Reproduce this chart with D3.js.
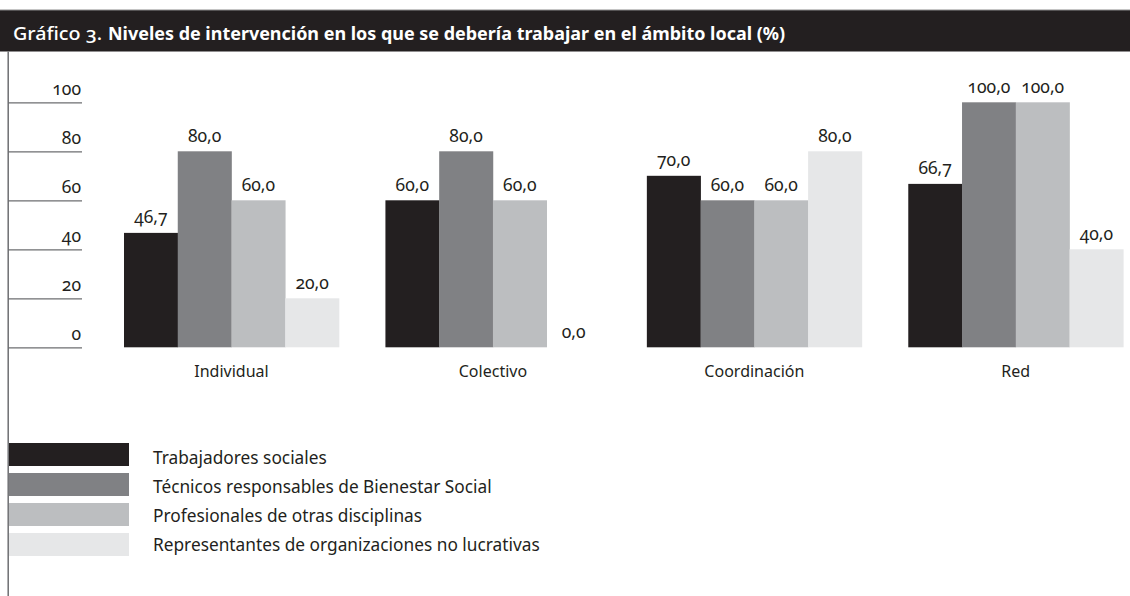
<!DOCTYPE html>
<html><head><meta charset="utf-8">
<script src="https://cdn.jsdelivr.net/npm/d3@7"></script>
<style>
body{margin:0;background:#fff}
text{font-family:"Noto Sans",sans-serif;font-variant-numeric:oldstyle-nums;fill:#231f20}
</style></head><body>
<svg id="s" width="1130" height="596"></svg>
<script>
// ---- data ----
const titlePrefix = "Gráfico 3.";
const titleMain = "Niveles de intervención en los que se debería trabajar en el ámbito local (%)";
const categories = ["Individual", "Colectivo", "Coordinación", "Red"];
const seriesNames = [
  "Trabajadores sociales",
  "Técnicos responsables de Bienestar Social",
  "Profesionales de otras disciplinas",
  "Representantes de organizaciones no lucrativas"
];
const trabajadores = [46.7, 60.0, 70.0, 66.7];
const tecnicos = [80.0, 80.0, 60.0, 100.0];
const profesionales = [60.0, 60.0, 60.0, 100.0];
const representantes = [20.0, 0.0, 80.0, 40.0];
const yTicks = [0, 20, 40, 60, 80, 100];
const colors = ["#231f20", "#808184", "#bcbec0", "#e6e7e8"];

const seriesValues = [trabajadores, tecnicos, profesionales, representantes];
const fmt = v => v.toFixed(1).replace(".", ",");

const svg = d3.select("#s");
const W = 1130, H = 596;

// title bar
svg.append("rect").attr("x", 0).attr("y", 10).attr("width", W).attr("height", 41.5).attr("fill", "#231f20");
svg.append("line").attr("x1", 0).attr("x2", W).attr("y1", 10).attr("y2", 10).attr("stroke", "#8a8a8a").attr("stroke-width", 1);
svg.append("text").attr("x", 13).attr("y", 40).style("fill", "#fff").style("font-size", "18px").style("font-weight", 500)
  .attr("textLength", 89).attr("lengthAdjust", "spacingAndGlyphs")
  .style("font-variant-numeric", "oldstyle-nums").text(titlePrefix);
svg.append("text").attr("x", 108).attr("y", 40).style("fill", "#fff").style("font-size", "18px").style("font-weight", 700)
  .attr("textLength", 677).attr("lengthAdjust", "spacingAndGlyphs").text(titleMain);

// left frame line
svg.append("line").attr("x1", 8.2).attr("x2", 8.2).attr("y1", 51.5).attr("y2", H).attr("stroke", "#6d6e71").attr("stroke-width", 1.5);

// scales
const y = d3.scaleLinear().domain([0, 100]).range([347.3, 102.3]);
const x0 = d3.scaleBand().domain(categories).range([124, 1123.3]).paddingInner(0.1775).paddingOuter(0);
const x1 = d3.scaleBand().domain(d3.range(seriesNames.length)).range([0, x0.bandwidth()]).padding(0);

// y axis: gridlines only on the left
const yAxis = d3.axisLeft(y).tickValues(yTicks).tickSize(0).tickFormat(d3.format("d"));
const yg = svg.append("g").attr("transform", "translate(82,0)").call(yAxis);
yg.select(".domain").remove();
yg.selectAll(".tick line").attr("x1", 0).attr("x2", -74).attr("stroke", "#6d6e71").attr("stroke-width", 1.2);
yg.selectAll(".tick text").attr("x", -1).attr("dy", "-7.5px").style("font-size", "17.5px")
  .style("font-family", "Noto Sans").style("fill", "#231f20");

// bars
const groups = svg.selectAll("g.grp").data(categories).enter().append("g").attr("class", "grp")
  .attr("transform", d => `translate(${x0(d)},0)`);
groups.each(function(cat, ci) {
  const g = d3.select(this);
  seriesValues.forEach((vals, si) => {
    const v = vals[ci];
    g.append("rect").attr("x", x1(si)).attr("width", x1.bandwidth() + 0.3)
      .attr("y", y(v)).attr("height", y(0) - y(v)).attr("fill", colors[si]);
    g.append("text").attr("x", x1(si) + x1.bandwidth() / 2).attr("y", y(v) - 9.5)
      .attr("text-anchor", "middle").style("font-size", "17.5px").text(fmt(v));
  });
  g.append("text").attr("x", x0.bandwidth() / 2).attr("y", 377).attr("text-anchor", "middle")
    .style("font-size", "16px").text(cat);
});

// legend
const leg = svg.selectAll("g.leg").data(seriesNames).enter().append("g").attr("class", "leg")
  .attr("transform", (d, i) => `translate(0,${443 + i * 30})`);
leg.append("rect").attr("x", 9).attr("y", 0).attr("width", 120).attr("height", 23).attr("fill", (d, i) => colors[i]);
leg.append("text").attr("x", 153).attr("y", (d, i) => 21 - i * 1).style("font-size", "17.3px").text(d => d);
</script></body></html>
